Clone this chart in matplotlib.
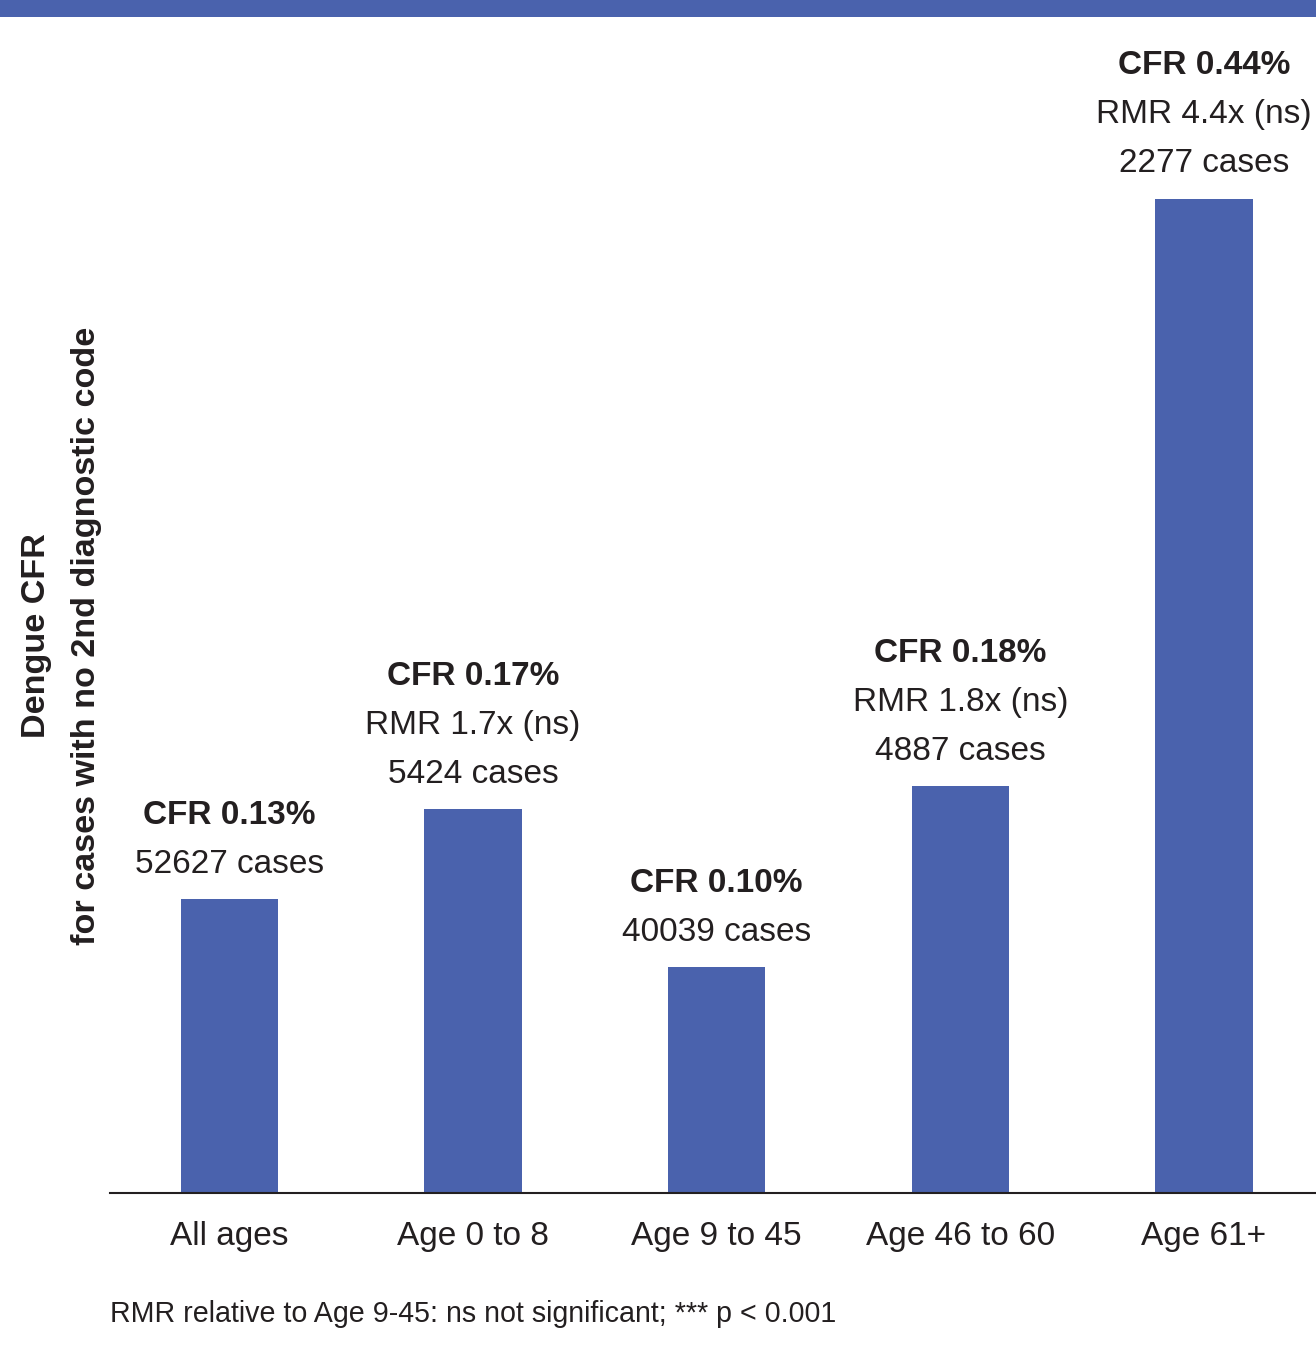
import matplotlib
matplotlib.use("Agg")
import matplotlib.pyplot as plt
from matplotlib.patches import Rectangle

plt.rcParams['font.family'] = ['Liberation Sans', 'DejaVu Sans']

# Data
groups = ["All ages", "Age 0 to 8", "Age 9 to 45", "Age 46 to 60", "Age 61+"]
cfr_pct = [0.13, 0.17, 0.10, 0.18, 0.44]
rmr = [None, "1.7x (ns)", None, "1.8x (ns)", "4.4x (ns)"]
cases = [52627, 5424, 40039, 4887, 2277]

BLUE = "#4a62ad"
TEXT = "#231f20"

W, H, DPI = 1316, 1349, 100
fig = plt.figure(figsize=(W / DPI, H / DPI), dpi=DPI)

# Header band
fig.patches.append(Rectangle((0, 1 - 17 / H), 1, 17 / H, transform=fig.transFigure,
                             facecolor=BLUE, edgecolor="none"))

ax_left, ax_right, ax_bottom, ax_top = 110, 1316, 1193, 20
ax = fig.add_axes([ax_left / W, 1 - ax_bottom / H,
                   (ax_right - ax_left) / W, (ax_bottom - ax_top) / H])

x = list(range(len(groups)))
ax.bar(x, cfr_pct, width=0.4, color=BLUE, zorder=2)
ax.set_xlim(-0.49, 4.46)
ax.set_ylim(0, 0.519)

for s in ["top", "right", "left"]:
    ax.spines[s].set_visible(False)
ax.spines["bottom"].set_color(TEXT)
ax.spines["bottom"].set_linewidth(1.5)
ax.set_yticks([])
ax.set_xticks(x)
ax.set_xticklabels(groups, fontsize=24, color=TEXT)
ax.tick_params(axis="x", length=0, pad=20)

# Labels above each bar
for xi, v, r, n in zip(x, cfr_pct, rmr, cases):
    lines = [(f"CFR {v:.2f}%", "bold")]
    if r is not None:
        lines.append((f"RMR {r}", "normal"))
    lines.append((f"{n} cases", "normal"))
    nl = len(lines)
    for i, (txt, wt) in enumerate(lines):
        off = 25 + (nl - 1 - i) * 35.3
        ax.annotate(txt, xy=(xi, v), xytext=(0, off), textcoords="offset points",
                    ha="center", va="center", fontsize=24, fontweight=wt,
                    color=TEXT, annotation_clip=False)

# Y axis title
fig.text(37 / W, 1 - 636 / H, "Dengue CFR", rotation=90, ha="center", va="center",
         fontsize=24.6, fontweight="bold", color=TEXT)
fig.text(87 / W, 1 - 636 / H, "for cases with no 2nd diagnostic code", rotation=90,
         ha="center", va="center", fontsize=24.6, fontweight="bold", color=TEXT)

# Footnote
fig.text(110 / W, 1 - 1314 / H, "RMR relative to Age 9-45: ns not significant; *** p < 0.001",
         ha="left", va="center", fontsize=20.6, color=TEXT)

fig.savefig("out.png", dpi=DPI, facecolor="white")
